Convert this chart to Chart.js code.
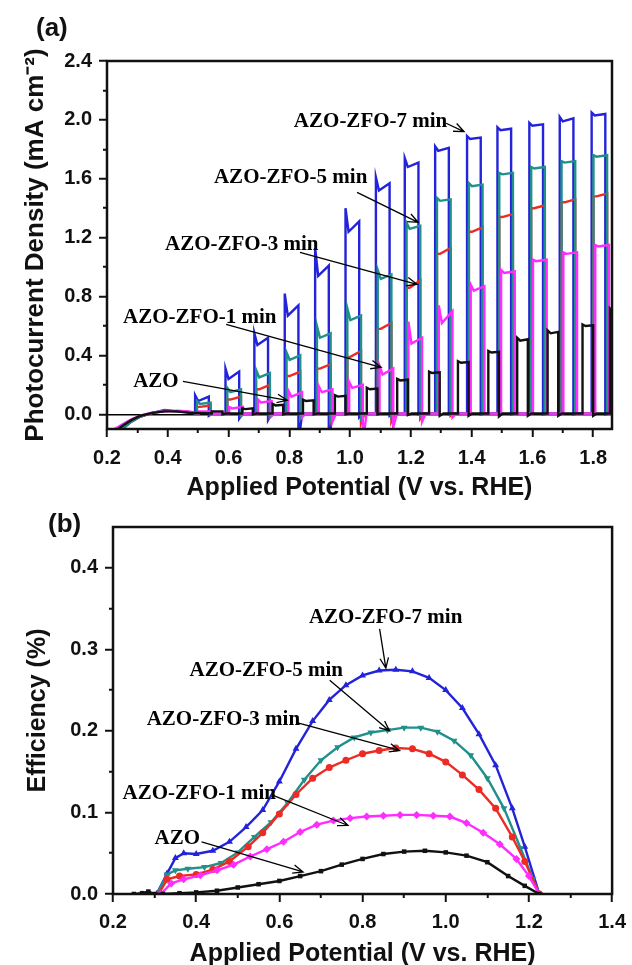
<!DOCTYPE html>
<html lang="en">
<head>
<meta charset="UTF-8" />
<title>AZO-ZFO photocurrent and efficiency</title>
<script src="https://cdn.jsdelivr.net/npm/chart.js"></script>
<style>
  body { margin: 0; background: #fff; }
  #wrap { position: relative; width: 632px; height: 965px; overflow: hidden; }
  canvas { position: absolute; left: 0; }
  #chartA { top: 0; }
  #chartB { top: 505px; }
  .tag { position: absolute; font: bold 26px "Liberation Sans", Arial, sans-serif; line-height: 1; color: #111; }
</style>
</head>
<body>
<div id="wrap">
  <canvas id="chartA" width="632" height="505"></canvas>
  <canvas id="chartB" width="632" height="460"></canvas>
  <div class="tag" style="left:36px;top:14px">(a)</div>
  <div class="tag" style="left:48px;top:510px">(b)</div>
</div>
<script>
// ---------- panel (a): photocurrent under chopped light ----------
const rampV   = [0.225, 0.25, 0.28, 0.31, 0.35, 0.39, 0.43, 0.47];
const rampAZO = [-0.12, -0.08, -0.04, -0.01, 0.01, 0.02, 0.02, 0.01];
const ramp1   = [-0.10, -0.07, -0.035, -0.01, 0.012, 0.02, 0.025, 0.02];
const ramp3   = [-0.14, -0.10, -0.05, -0.015, 0.01, 0.025, 0.02, 0.015];
const ramp5   = [-0.14, -0.10, -0.05, -0.015, 0.01, 0.025, 0.02, 0.015];
const ramp7   = [-0.14, -0.10, -0.05, -0.015, 0.01, 0.03, 0.02, 0.015];

// potential where the light is switched on
const lightOn    = [0.49, 0.59, 0.685, 0.785, 0.885, 0.985, 1.085, 1.18, 1.28, 1.385, 1.485, 1.59, 1.69, 1.795];
const lightOnAZO = [0.545, 0.645, 0.745, 0.845, 0.95, 1.055, 1.155, 1.26, 1.355, 1.455, 1.55, 1.65, 1.765, 1.855];
const pulseWidth = 0.045;
const pulseWidthAZO = 0.035;
const dark = 0.005;

// current at light-on spike, after the spike, before light-off, and the off transient
const topAZO = [0.02, 0.04, 0.07, 0.10, 0.13, 0.18, 0.24, 0.29, 0.36, 0.43, 0.52, 0.57, 0.61, 0.72];
const lowAZO = [0.02, 0.035, 0.06, 0.09, 0.12, 0.17, 0.23, 0.28, 0.35, 0.42, 0.50, 0.55, 0.60, 0.70];
const endAZO = [0.02, 0.04, 0.065, 0.095, 0.125, 0.175, 0.235, 0.285, 0.355, 0.425, 0.51, 0.56, 0.605, 0.71];
const dipAZO = [0, 0, 0, 0, 0, 0, -0.005, -0.01, -0.01, -0.015, -0.01, -0.01, -0.01, 0];

const top1 = [0.02, 0.05, 0.10, 0.16, 0.19, 0.22, 0.33, 0.63, 0.74, 0.88, 0.98, 1.05, 1.10, 1.15];
const low1 = [0.02, 0.04, 0.08, 0.12, 0.15, 0.18, 0.27, 0.48, 0.62, 0.84, 0.96, 1.04, 1.09, 1.14];
const end1 = [0.02, 0.05, 0.09, 0.15, 0.17, 0.20, 0.31, 0.52, 0.70, 0.87, 0.97, 1.05, 1.10, 1.15];
const dip1 = [0, 0, -0.01, -0.02, -0.05, -0.2, -0.09, -0.05, -0.02, 0, 0, 0, 0, 0];

const top3 = [0.05, 0.10, 0.17, 0.26, 0.31, 0.39, 0.58, 0.86, 1.09, 1.24, 1.34, 1.40, 1.44, 1.48];
const low3 = [0.05, 0.10, 0.17, 0.26, 0.31, 0.39, 0.58, 0.86, 1.09, 1.24, 1.34, 1.40, 1.44, 1.48];
const end3 = [0.06, 0.12, 0.20, 0.29, 0.34, 0.43, 0.62, 0.91, 1.13, 1.27, 1.36, 1.42, 1.46, 1.50];
const dip3 = [0, -0.01, -0.02, -0.03, -0.05, -0.06, -0.05, -0.03, -0.01, 0, 0, 0, 0, 0];

const top5 = [0.09, 0.18, 0.30, 0.42, 0.60, 0.72, 0.98, 1.30, 1.47, 1.57, 1.64, 1.68, 1.72, 1.76];
const low5 = [0.07, 0.15, 0.25, 0.37, 0.52, 0.64, 0.92, 1.26, 1.45, 1.55, 1.63, 1.67, 1.71, 1.75];
const end5 = [0.08, 0.17, 0.28, 0.40, 0.55, 0.67, 0.95, 1.28, 1.46, 1.56, 1.64, 1.68, 1.72, 1.76];
const dip5 = [0, -0.01, -0.02, -0.03, -0.04, -0.03, -0.02, -0.01, 0, 0, 0, 0, 0, 0];

const top7 = [0.13, 0.31, 0.55, 0.82, 1.13, 1.40, 1.61, 1.74, 1.82, 1.89, 1.95, 1.98, 2.02, 2.05];
const low7 = [0.09, 0.24, 0.47, 0.67, 0.94, 1.24, 1.52, 1.68, 1.79, 1.87, 1.93, 1.96, 1.99, 2.03];
const end7 = [0.12, 0.29, 0.52, 0.74, 1.01, 1.31, 1.57, 1.71, 1.81, 1.88, 1.94, 1.97, 2.01, 2.04];
const dip7 = [-0.01, -0.03, -0.04, -0.2, -0.2, -0.02, -0.01, 0, 0, 0, 0, 0, 0, 0];

const xTicksA  = [0.2, 0.3, 0.4, 0.5, 0.6, 0.7, 0.8, 0.9, 1.0, 1.1, 1.2, 1.3, 1.4, 1.5, 1.6, 1.7, 1.8];
const xLabelsA = ['0.2', '', '0.4', '', '0.6', '', '0.8', '', '1.0', '', '1.2', '', '1.4', '', '1.6', '', '1.8'];
const yTicksA  = [0, 0.2, 0.4, 0.6, 0.8, 1.0, 1.2, 1.4, 1.6, 1.8, 2.0, 2.2, 2.4];
const yLabelsA = ['0.0', '', '0.4', '', '0.8', '', '1.2', '', '1.6', '', '2.0', '', '2.4'];

// ---------- panel (b): photoconversion efficiency ----------
const effVAZO = [0.25, 0.27, 0.285, 0.30, 0.32, 0.36, 0.40, 0.45, 0.50, 0.55, 0.60, 0.65, 0.70, 0.75, 0.80, 0.85, 0.90, 0.95, 1.00, 1.05, 1.10, 1.15, 1.19, 1.225];
const effAZO  = [0, 0.001, 0.003, 0, 0, 0.001, 0.002, 0.004, 0.008, 0.012, 0.016, 0.022, 0.028, 0.036, 0.043, 0.049, 0.052, 0.053, 0.051, 0.047, 0.039, 0.022, 0.01, 0];
const effV1 = [0.315, 0.34, 0.37, 0.41, 0.45, 0.49, 0.53, 0.57, 0.61, 0.65, 0.69, 0.73, 0.77, 0.81, 0.85, 0.89, 0.93, 0.97, 1.01, 1.05, 1.09, 1.13, 1.17, 1.20, 1.225];
const eff1  = [0, 0.013, 0.018, 0.023, 0.029, 0.036, 0.046, 0.055, 0.064, 0.076, 0.085, 0.09, 0.093, 0.095, 0.096, 0.097, 0.097, 0.096, 0.095, 0.087, 0.075, 0.061, 0.043, 0.022, 0];
const effV3 = [0.31, 0.33, 0.36, 0.40, 0.44, 0.48, 0.525, 0.56, 0.60, 0.64, 0.68, 0.72, 0.76, 0.80, 0.84, 0.88, 0.92, 0.96, 1.00, 1.04, 1.08, 1.12, 1.16, 1.19, 1.225];
const eff3  = [0, 0.018, 0.022, 0.024, 0.03, 0.04, 0.058, 0.075, 0.098, 0.122, 0.142, 0.155, 0.164, 0.172, 0.176, 0.179, 0.178, 0.172, 0.162, 0.146, 0.128, 0.105, 0.07, 0.04, 0];
const effV5 = [0.305, 0.33, 0.35, 0.38, 0.42, 0.46, 0.50, 0.54, 0.58, 0.62, 0.66, 0.70, 0.74, 0.78, 0.82, 0.86, 0.90, 0.94, 0.98, 1.02, 1.06, 1.10, 1.14, 1.18, 1.21, 1.225];
const eff5  = [0, 0.024, 0.029, 0.031, 0.033, 0.038, 0.051, 0.07, 0.088, 0.112, 0.14, 0.164, 0.18, 0.192, 0.198, 0.201, 0.204, 0.204, 0.199, 0.188, 0.17, 0.142, 0.105, 0.056, 0.018, 0];
const effV7 = [0.305, 0.33, 0.35, 0.37, 0.40, 0.44, 0.48, 0.52, 0.56, 0.60, 0.64, 0.68, 0.72, 0.76, 0.80, 0.84, 0.88, 0.92, 0.96, 1.00, 1.04, 1.08, 1.12, 1.16, 1.19, 1.225];
const eff7  = [0, 0.025, 0.044, 0.05, 0.049, 0.053, 0.064, 0.082, 0.103, 0.138, 0.178, 0.212, 0.238, 0.256, 0.268, 0.274, 0.275, 0.273, 0.265, 0.25, 0.228, 0.196, 0.158, 0.105, 0.058, 0];

const xTicksB  = [0.2, 0.3, 0.4, 0.5, 0.6, 0.7, 0.8, 0.9, 1.0, 1.1, 1.2, 1.3, 1.4];
const xLabelsB = ['0.2', '', '0.4', '', '0.6', '', '0.8', '', '1.0', '', '1.2', '', '1.4'];
const yTicksB  = [0, 0.05, 0.1, 0.15, 0.2, 0.25, 0.3, 0.35, 0.4];
const yLabelsB = ['0.0', '', '0.1', '', '0.2', '', '0.3', '', '0.4'];

const colors = { azo: '#111111', m1: '#ff2cff', m3: '#ec2b24', m5: '#21908a', m7: '#2323d9' };

// labels with arrows, in data units
const notesA = [
  { text: 'AZO-ZFO-7 min', x: 0.815, y: 1.99, from: [1.316, 1.977], to: [1.375, 1.92] },
  { text: 'AZO-ZFO-5 min', x: 0.552, y: 1.61, from: [1.023, 1.508], to: [1.224, 1.304] },
  { text: 'AZO-ZFO-3 min', x: 0.391, y: 1.155, from: [0.835, 1.10], to: [1.22, 0.883] },
  { text: 'AZO-ZFO-1 min', x: 0.253, y: 0.66, from: [0.592, 0.611], to: [1.102, 0.319] },
  { text: 'AZO', x: 0.286, y: 0.224, from: [0.45, 0.224], to: [0.793, 0.095] }
];
const notesB = [
  { text: 'AZO-ZFO-7 min', x: 0.671, y: 0.339, from: [0.841, 0.325], to: [0.856, 0.277] },
  { text: 'AZO-ZFO-5 min', x: 0.384, y: 0.274, from: [0.721, 0.262], to: [0.865, 0.200] },
  { text: 'AZO-ZFO-3 min', x: 0.281, y: 0.214, from: [0.642, 0.210], to: [0.889, 0.176] },
  { text: 'AZO-ZFO-1 min', x: 0.223, y: 0.123, from: [0.585, 0.121], to: [0.765, 0.084] },
  { text: 'AZO', x: 0.30, y: 0.068, from: [0.413, 0.064], to: [0.657, 0.027] }
];

// build the square-wave trace of one sample
function chopped(ramp, on, shift, width, top, low, end, dip) {
  const pts = rampV.map((v, i) => ({ x: v, y: ramp[i] }));
  on.forEach((v0, i) => {
    const t = v0 + shift, t2 = t + width;
    pts.push({ x: t, y: dark }, { x: t, y: top[i] }, { x: t + 0.01, y: low[i] },
             { x: t2, y: end[i] }, { x: t2, y: dip[i] }, { x: t2 + 0.012, y: dark });
  });
  pts.push({ x: 1.87, y: dark });
  return pts;
}

function pairs(xs, ys) { return xs.map((v, i) => ({ x: v, y: ys[i] })); }

const sans = size => ({ family: '"Liberation Sans", Arial, sans-serif', size, weight: 'bold' });

function makeAxis(o) {
  const horiz = o.side === 'x';
  return {
    type: 'linear',
    min: o.min, max: o.max,
    afterBuildTicks: s => { s.ticks = o.ticks.map(v => ({ value: v })); },
    afterFit: s => { if (horiz) s.height = o.size; else s.width = o.size; },
    border: { display: false },
    grid: {
      drawOnChartArea: !!o.zeroLine,
      color: c => (o.zeroLine && c.tick && c.tick.value === 0) ? '#000' : 'rgba(0,0,0,0)',
      lineWidth: 1.5,
      tickLength: 8,
      tickColor: '#111',
      tickWidth: 2,
      tickBorderDash: c => o.labels[c.index] === '' ? (horiz ? [4, 100] : [0, 4, 4, 100]) : []
    },
    ticks: {
      autoSkip: false, maxRotation: 0, padding: o.pad,
      color: '#111', font: { ...sans(20), lineHeight: o.lh || 1.2 },
      callback: (v, i) => o.labels[i]
    },
    title: { display: true, text: o.title, color: '#111', font: { ...sans(o.tsize), lineHeight: 1 }, padding: o.tpad }
  };
}

const frame = {
  id: 'frame',
  afterDatasetsDraw(chart) {
    const { ctx, chartArea: a } = chart;
    ctx.save();
    ctx.strokeStyle = '#111';
    ctx.lineWidth = 2.5;
    ctx.strokeRect(a.left, a.top, a.right - a.left, a.bottom - a.top);
    ctx.restore();
  }
};

function notes(items) {
  return {
    id: 'notes',
    afterDatasetsDraw(chart) {
      const { ctx, scales: { x, y } } = chart;
      ctx.save();
      ctx.font = 'bold 21px "Liberation Serif", "Times New Roman", serif';
      ctx.fillStyle = '#000';
      ctx.strokeStyle = '#000';
      ctx.lineWidth = 1.3;
      ctx.textBaseline = 'middle';
      items.forEach(n => {
        ctx.fillText(n.text, x.getPixelForValue(n.x), y.getPixelForValue(n.y));
        const x1 = x.getPixelForValue(n.from[0]), y1 = y.getPixelForValue(n.from[1]);
        const x2 = x.getPixelForValue(n.to[0]), y2 = y.getPixelForValue(n.to[1]);
        const ang = Math.atan2(y2 - y1, x2 - x1);
        ctx.beginPath();
        ctx.moveTo(x1, y1);
        ctx.lineTo(x2, y2);
        ctx.moveTo(x2 - 11 * Math.cos(ang - 0.4), y2 - 11 * Math.sin(ang - 0.4));
        ctx.lineTo(x2, y2);
        ctx.lineTo(x2 - 11 * Math.cos(ang + 0.4), y2 - 11 * Math.sin(ang + 0.4));
        ctx.stroke();
      });
      ctx.restore();
    }
  };
}

const common = {
  responsive: false,
  animation: false,
  plugins: { legend: { display: false }, tooltip: { enabled: false } },
  elements: { line: { tension: 0 } }
};

// first dataset is drawn on top
new Chart(document.getElementById('chartA'), {
  type: 'line',
  data: {
    datasets: [
      { label: 'AZO', data: chopped(rampAZO, lightOnAZO, 0, pulseWidthAZO, topAZO, lowAZO, endAZO, dipAZO), borderColor: colors.azo },
      { label: 'AZO-ZFO-1 min', data: chopped(ramp1, lightOn, 0.012, pulseWidth, top1, low1, end1, dip1), borderColor: colors.m1 },
      { label: 'AZO-ZFO-5 min', data: chopped(ramp5, lightOn, 0.006, pulseWidth, top5, low5, end5, dip5), borderColor: colors.m5 },
      { label: 'AZO-ZFO-3 min', data: chopped(ramp3, lightOn, 0.006, pulseWidth, top3, low3, end3, dip3), borderColor: colors.m3 },
      { label: 'AZO-ZFO-7 min', data: chopped(ramp7, lightOn, 0, pulseWidth, top7, low7, end7, dip7), borderColor: colors.m7 }
    ].map(d => ({ ...d, borderWidth: 2.4, pointRadius: 0, fill: false }))
  },
  options: {
    ...common,
    layout: { padding: { left: 14, right: 20, top: 61, bottom: 0 } },
    scales: {
      x: makeAxis({ side: 'x', min: 0.2, max: 1.862, ticks: xTicksA, labels: xLabelsA, size: 76, pad: 9,
                    title: 'Applied Potential (V vs. RHE)', tsize: 25, tpad: { top: 0, bottom: 4.5 } }),
      y: makeAxis({ side: 'y', min: -0.1, max: 2.4, ticks: yTicksA, labels: yLabelsA, size: 93, pad: 7, zeroLine: true,
                    title: 'Photocurrent Density (mA cm⁻²)', tsize: 26, tpad: { top: 9, bottom: 0 } })
    }
  },
  plugins: [frame, notes(notesA)]
});

new Chart(document.getElementById('chartB'), {
  type: 'line',
  data: {
    datasets: [
      { label: 'AZO', data: pairs(effVAZO, effAZO), borderColor: colors.azo, backgroundColor: colors.azo, pointStyle: 'rect', pointRadius: 3.2 },
      { label: 'AZO-ZFO-1 min', data: pairs(effV1, eff1), borderColor: colors.m1, backgroundColor: colors.m1, pointStyle: 'rectRot', pointRadius: 4 },
      { label: 'AZO-ZFO-3 min', data: pairs(effV3, eff3), borderColor: colors.m3, backgroundColor: colors.m3, pointStyle: 'circle', pointRadius: 3.5 },
      { label: 'AZO-ZFO-5 min', data: pairs(effV5, eff5), borderColor: colors.m5, backgroundColor: colors.m5, pointStyle: 'triangle', pointRotation: 180, pointRadius: 4 },
      { label: 'AZO-ZFO-7 min', data: pairs(effV7, eff7), borderColor: colors.m7, backgroundColor: colors.m7, pointStyle: 'triangle', pointRadius: 4 }
    ].map(d => ({ ...d, borderWidth: 2.4, pointBorderWidth: 0, fill: false }))
  },
  options: {
    ...common,
    layout: { padding: { left: 14, right: 19, top: 22, bottom: 0 } },
    scales: {
      x: makeAxis({ side: 'x', min: 0.2, max: 1.4, ticks: xTicksB, labels: xLabelsB, size: 71, pad: 6, lh: 1.4,
                    title: 'Applied Potential (V vs. RHE)', tsize: 25, tpad: { top: 0, bottom: -2 } }),
      y: makeAxis({ side: 'y', min: 0, max: 0.45, ticks: yTicksB, labels: yLabelsB, size: 99, pad: 7,
                    title: 'Efficiency (%)', tsize: 25, tpad: { top: 11.5, bottom: 0 } })
    }
  },
  plugins: [frame, notes(notesB)]
});
</script>
</body>
</html>
